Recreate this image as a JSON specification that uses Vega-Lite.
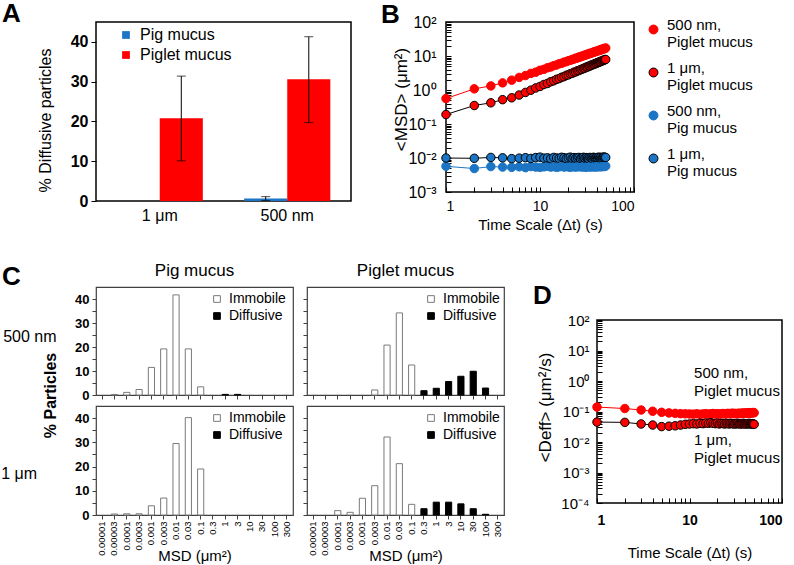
{
"$schema": "https://vega.github.io/schema/vega-lite/v6.json",
"autosize": {"type": "none"},
"padding": {"left": 96, "top": 22, "right": 698, "bottom": 543},
"background": "white",
"config": {
  "font": "Liberation Sans",
  "view": {"stroke": "black", "strokeWidth": 1.5},
  "axis": {"domain": false, "grid": false, "tickColor": "black", "labelColor": "black", "titleColor": "black", "titleFontWeight": "normal", "labelOverlap": false},
  "legend": {"labelColor": "black"},
  "title": {"color": "black"}
},
"datasets": {
  "barsA": [
    {"size": "1 μm", "mucus": "Pig mucus", "value": 0},
    {"size": "1 μm", "mucus": "Piglet mucus", "value": 20.8, "lo": 10.1, "hi": 31.4},
    {"size": "500 nm", "mucus": "Pig mucus", "value": 0.6, "lo": 0.1, "hi": 1.1},
    {"size": "500 nm", "mucus": "Piglet mucus", "value": 30.6, "lo": 19.7, "hi": 41.3}
  ],
  "msd": [
    {"t": 1, "500 nm, Piglet mucus": 0.56, "1 μm, Piglet mucus": 0.19, "500 nm, Pig mucus": 0.0057, "1 μm, Pig mucus": 0.0100},
    {"t": 2, "500 nm, Piglet mucus": 1.08, "1 μm, Piglet mucus": 0.35, "500 nm, Pig mucus": 0.0049, "1 μm, Pig mucus": 0.0098},
    {"t": 3, "500 nm, Piglet mucus": 1.32, "1 μm, Piglet mucus": 0.42, "500 nm, Pig mucus": 0.0056, "1 μm, Pig mucus": 0.0104},
    {"t": 4, "500 nm, Piglet mucus": 1.62, "1 μm, Piglet mucus": 0.52, "500 nm, Pig mucus": 0.0054, "1 μm, Pig mucus": 0.0101},
    {"t": 5, "500 nm, Piglet mucus": 1.95, "1 μm, Piglet mucus": 0.59, "500 nm, Pig mucus": 0.0053, "1 μm, Pig mucus": 0.0096},
    {"t": 6, "500 nm, Piglet mucus": 2.35, "1 μm, Piglet mucus": 0.71, "500 nm, Pig mucus": 0.0055, "1 μm, Pig mucus": 0.0099},
    {"t": 7, "500 nm, Piglet mucus": 2.66, "1 μm, Piglet mucus": 0.85, "500 nm, Pig mucus": 0.0052, "1 μm, Pig mucus": 0.0102},
    {"t": 8, "500 nm, Piglet mucus": 3.08, "1 μm, Piglet mucus": 0.99, "500 nm, Pig mucus": 0.0056, "1 μm, Pig mucus": 0.0097},
    {"t": 9, "500 nm, Piglet mucus": 3.35, "1 μm, Piglet mucus": 1.15, "500 nm, Pig mucus": 0.0054, "1 μm, Pig mucus": 0.0103},
    {"t": 10, "500 nm, Piglet mucus": 3.80, "1 μm, Piglet mucus": 1.27, "500 nm, Pig mucus": 0.0053, "1 μm, Pig mucus": 0.0106},
    {"t": 11, "500 nm, Piglet mucus": 4.05, "1 μm, Piglet mucus": 1.45, "500 nm, Pig mucus": 0.0055, "1 μm, Pig mucus": 0.0099},
    {"t": 12, "500 nm, Piglet mucus": 4.50, "1 μm, Piglet mucus": 1.56, "500 nm, Pig mucus": 0.0057, "1 μm, Pig mucus": 0.0101},
    {"t": 13, "500 nm, Piglet mucus": 4.75, "1 μm, Piglet mucus": 1.75, "500 nm, Pig mucus": 0.0054, "1 μm, Pig mucus": 0.0096},
    {"t": 14, "500 nm, Piglet mucus": 5.20, "1 μm, Piglet mucus": 1.86, "500 nm, Pig mucus": 0.0056, "1 μm, Pig mucus": 0.0104},
    {"t": 15, "500 nm, Piglet mucus": 5.45, "1 μm, Piglet mucus": 2.06, "500 nm, Pig mucus": 0.0053, "1 μm, Pig mucus": 0.0100},
    {"t": 16, "500 nm, Piglet mucus": 5.90, "1 μm, Piglet mucus": 2.17, "500 nm, Pig mucus": 0.0055, "1 μm, Pig mucus": 0.0098},
    {"t": 17, "500 nm, Piglet mucus": 6.10, "1 μm, Piglet mucus": 2.37, "500 nm, Pig mucus": 0.0058, "1 μm, Pig mucus": 0.0105},
    {"t": 18, "500 nm, Piglet mucus": 6.60, "1 μm, Piglet mucus": 2.47, "500 nm, Pig mucus": 0.0054, "1 μm, Pig mucus": 0.0102},
    {"t": 19, "500 nm, Piglet mucus": 6.80, "1 μm, Piglet mucus": 2.70, "500 nm, Pig mucus": 0.0056, "1 μm, Pig mucus": 0.0097},
    {"t": 20, "500 nm, Piglet mucus": 7.25, "1 μm, Piglet mucus": 2.79, "500 nm, Pig mucus": 0.0055, "1 μm, Pig mucus": 0.0101},
    {"t": 21, "500 nm, Piglet mucus": 7.45, "1 μm, Piglet mucus": 3.01, "500 nm, Pig mucus": 0.0053, "1 μm, Pig mucus": 0.0106},
    {"t": 22, "500 nm, Piglet mucus": 7.95, "1 μm, Piglet mucus": 3.09, "500 nm, Pig mucus": 0.0057, "1 μm, Pig mucus": 0.0099},
    {"t": 23, "500 nm, Piglet mucus": 8.10, "1 μm, Piglet mucus": 3.35, "500 nm, Pig mucus": 0.0055, "1 μm, Pig mucus": 0.0103},
    {"t": 24, "500 nm, Piglet mucus": 8.65, "1 μm, Piglet mucus": 3.41, "500 nm, Pig mucus": 0.0054, "1 μm, Pig mucus": 0.0098},
    {"t": 25, "500 nm, Piglet mucus": 8.75, "1 μm, Piglet mucus": 3.68, "500 nm, Pig mucus": 0.0056, "1 μm, Pig mucus": 0.0102},
    {"t": 26, "500 nm, Piglet mucus": 9.35, "1 μm, Piglet mucus": 3.72, "500 nm, Pig mucus": 0.0055, "1 μm, Pig mucus": 0.0104},
    {"t": 27, "500 nm, Piglet mucus": 9.40, "1 μm, Piglet mucus": 4.00, "500 nm, Pig mucus": 0.0057, "1 μm, Pig mucus": 0.0097},
    {"t": 28, "500 nm, Piglet mucus": 10.0, "1 μm, Piglet mucus": 4.05, "500 nm, Pig mucus": 0.0054, "1 μm, Pig mucus": 0.0101},
    {"t": 29, "500 nm, Piglet mucus": 10.1, "1 μm, Piglet mucus": 4.35, "500 nm, Pig mucus": 0.0056, "1 μm, Pig mucus": 0.0105},
    {"t": 30, "500 nm, Piglet mucus": 10.7, "1 μm, Piglet mucus": 4.38, "500 nm, Pig mucus": 0.0055, "1 μm, Pig mucus": 0.0099},
    {"t": 31, "500 nm, Piglet mucus": 10.7, "1 μm, Piglet mucus": 4.70, "500 nm, Pig mucus": 0.0053, "1 μm, Pig mucus": 0.0103},
    {"t": 32, "500 nm, Piglet mucus": 11.4, "1 μm, Piglet mucus": 4.72, "500 nm, Pig mucus": 0.0057, "1 μm, Pig mucus": 0.0100},
    {"t": 33, "500 nm, Piglet mucus": 11.4, "1 μm, Piglet mucus": 5.05, "500 nm, Pig mucus": 0.0055, "1 μm, Pig mucus": 0.0096},
    {"t": 34, "500 nm, Piglet mucus": 12.0, "1 μm, Piglet mucus": 5.05, "500 nm, Pig mucus": 0.0056, "1 μm, Pig mucus": 0.0104},
    {"t": 35, "500 nm, Piglet mucus": 12.0, "1 μm, Piglet mucus": 5.40, "500 nm, Pig mucus": 0.0054, "1 μm, Pig mucus": 0.0101},
    {"t": 36, "500 nm, Piglet mucus": 12.7, "1 μm, Piglet mucus": 5.40, "500 nm, Pig mucus": 0.0057, "1 μm, Pig mucus": 0.0098},
    {"t": 37, "500 nm, Piglet mucus": 12.7, "1 μm, Piglet mucus": 5.75, "500 nm, Pig mucus": 0.0055, "1 μm, Pig mucus": 0.0105},
    {"t": 38, "500 nm, Piglet mucus": 13.4, "1 μm, Piglet mucus": 5.74, "500 nm, Pig mucus": 0.0056, "1 μm, Pig mucus": 0.0102},
    {"t": 39, "500 nm, Piglet mucus": 13.3, "1 μm, Piglet mucus": 6.10, "500 nm, Pig mucus": 0.0054, "1 μm, Pig mucus": 0.0099},
    {"t": 40, "500 nm, Piglet mucus": 14.0, "1 μm, Piglet mucus": 6.08, "500 nm, Pig mucus": 0.0057, "1 μm, Pig mucus": 0.0103},
    {"t": 41, "500 nm, Piglet mucus": 14.0, "1 μm, Piglet mucus": 6.45, "500 nm, Pig mucus": 0.0055, "1 μm, Pig mucus": 0.0100},
    {"t": 42, "500 nm, Piglet mucus": 14.7, "1 μm, Piglet mucus": 6.42, "500 nm, Pig mucus": 0.0058, "1 μm, Pig mucus": 0.0106},
    {"t": 43, "500 nm, Piglet mucus": 14.6, "1 μm, Piglet mucus": 6.80, "500 nm, Pig mucus": 0.0056, "1 μm, Pig mucus": 0.0101},
    {"t": 44, "500 nm, Piglet mucus": 15.3, "1 μm, Piglet mucus": 6.76, "500 nm, Pig mucus": 0.0055, "1 μm, Pig mucus": 0.0104},
    {"t": 45, "500 nm, Piglet mucus": 15.2, "1 μm, Piglet mucus": 7.15, "500 nm, Pig mucus": 0.0057, "1 μm, Pig mucus": 0.0099},
    {"t": 46, "500 nm, Piglet mucus": 16.0, "1 μm, Piglet mucus": 7.12, "500 nm, Pig mucus": 0.0056, "1 μm, Pig mucus": 0.0105},
    {"t": 47, "500 nm, Piglet mucus": 15.9, "1 μm, Piglet mucus": 7.50, "500 nm, Pig mucus": 0.0058, "1 μm, Pig mucus": 0.0102},
    {"t": 48, "500 nm, Piglet mucus": 16.7, "1 μm, Piglet mucus": 7.48, "500 nm, Pig mucus": 0.0056, "1 μm, Pig mucus": 0.0107},
    {"t": 49, "500 nm, Piglet mucus": 16.5, "1 μm, Piglet mucus": 7.85, "500 nm, Pig mucus": 0.0057, "1 μm, Pig mucus": 0.0103},
    {"t": 50, "500 nm, Piglet mucus": 17.2, "1 μm, Piglet mucus": 7.90, "500 nm, Pig mucus": 0.0058, "1 μm, Pig mucus": 0.0104}
  ],
  "deff": [
    {"t": 1, "500 nm, Piglet mucus": 0.140, "1 μm, Piglet mucus": 0.045},
    {"t": 2, "500 nm, Piglet mucus": 0.125, "1 μm, Piglet mucus": 0.044},
    {"t": 3, "500 nm, Piglet mucus": 0.112, "1 μm, Piglet mucus": 0.039},
    {"t": 4, "500 nm, Piglet mucus": 0.102, "1 μm, Piglet mucus": 0.036},
    {"t": 5, "500 nm, Piglet mucus": 0.094, "1 μm, Piglet mucus": 0.032},
    {"t": 6, "500 nm, Piglet mucus": 0.090, "1 μm, Piglet mucus": 0.033},
    {"t": 7, "500 nm, Piglet mucus": 0.087, "1 μm, Piglet mucus": 0.034},
    {"t": 8, "500 nm, Piglet mucus": 0.085, "1 μm, Piglet mucus": 0.036},
    {"t": 9, "500 nm, Piglet mucus": 0.084, "1 μm, Piglet mucus": 0.038},
    {"t": 10, "500 nm, Piglet mucus": 0.083, "1 μm, Piglet mucus": 0.039},
    {"t": 11, "500 nm, Piglet mucus": 0.082, "1 μm, Piglet mucus": 0.040},
    {"t": 12, "500 nm, Piglet mucus": 0.084, "1 μm, Piglet mucus": 0.039},
    {"t": 13, "500 nm, Piglet mucus": 0.081, "1 μm, Piglet mucus": 0.041},
    {"t": 14, "500 nm, Piglet mucus": 0.083, "1 μm, Piglet mucus": 0.040},
    {"t": 15, "500 nm, Piglet mucus": 0.085, "1 μm, Piglet mucus": 0.042},
    {"t": 16, "500 nm, Piglet mucus": 0.082, "1 μm, Piglet mucus": 0.041},
    {"t": 17, "500 nm, Piglet mucus": 0.084, "1 μm, Piglet mucus": 0.043},
    {"t": 18, "500 nm, Piglet mucus": 0.086, "1 μm, Piglet mucus": 0.041},
    {"t": 19, "500 nm, Piglet mucus": 0.083, "1 μm, Piglet mucus": 0.040},
    {"t": 20, "500 nm, Piglet mucus": 0.085, "1 μm, Piglet mucus": 0.042},
    {"t": 21, "500 nm, Piglet mucus": 0.082, "1 μm, Piglet mucus": 0.039},
    {"t": 22, "500 nm, Piglet mucus": 0.084, "1 μm, Piglet mucus": 0.041},
    {"t": 23, "500 nm, Piglet mucus": 0.086, "1 μm, Piglet mucus": 0.040},
    {"t": 24, "500 nm, Piglet mucus": 0.083, "1 μm, Piglet mucus": 0.039},
    {"t": 25, "500 nm, Piglet mucus": 0.085, "1 μm, Piglet mucus": 0.041},
    {"t": 26, "500 nm, Piglet mucus": 0.087, "1 μm, Piglet mucus": 0.040},
    {"t": 27, "500 nm, Piglet mucus": 0.084, "1 μm, Piglet mucus": 0.039},
    {"t": 28, "500 nm, Piglet mucus": 0.086, "1 μm, Piglet mucus": 0.041},
    {"t": 29, "500 nm, Piglet mucus": 0.088, "1 μm, Piglet mucus": 0.040},
    {"t": 30, "500 nm, Piglet mucus": 0.085, "1 μm, Piglet mucus": 0.039},
    {"t": 31, "500 nm, Piglet mucus": 0.087, "1 μm, Piglet mucus": 0.040},
    {"t": 32, "500 nm, Piglet mucus": 0.084, "1 μm, Piglet mucus": 0.039},
    {"t": 33, "500 nm, Piglet mucus": 0.086, "1 μm, Piglet mucus": 0.041},
    {"t": 34, "500 nm, Piglet mucus": 0.088, "1 μm, Piglet mucus": 0.040},
    {"t": 35, "500 nm, Piglet mucus": 0.085, "1 μm, Piglet mucus": 0.039},
    {"t": 36, "500 nm, Piglet mucus": 0.087, "1 μm, Piglet mucus": 0.040},
    {"t": 37, "500 nm, Piglet mucus": 0.089, "1 μm, Piglet mucus": 0.039},
    {"t": 38, "500 nm, Piglet mucus": 0.086, "1 μm, Piglet mucus": 0.041},
    {"t": 39, "500 nm, Piglet mucus": 0.088, "1 μm, Piglet mucus": 0.040},
    {"t": 40, "500 nm, Piglet mucus": 0.090, "1 μm, Piglet mucus": 0.039},
    {"t": 41, "500 nm, Piglet mucus": 0.087, "1 μm, Piglet mucus": 0.040},
    {"t": 42, "500 nm, Piglet mucus": 0.089, "1 μm, Piglet mucus": 0.039},
    {"t": 43, "500 nm, Piglet mucus": 0.091, "1 μm, Piglet mucus": 0.040},
    {"t": 44, "500 nm, Piglet mucus": 0.088, "1 μm, Piglet mucus": 0.041},
    {"t": 45, "500 nm, Piglet mucus": 0.090, "1 μm, Piglet mucus": 0.039},
    {"t": 46, "500 nm, Piglet mucus": 0.092, "1 μm, Piglet mucus": 0.040},
    {"t": 47, "500 nm, Piglet mucus": 0.089, "1 μm, Piglet mucus": 0.039},
    {"t": 48, "500 nm, Piglet mucus": 0.091, "1 μm, Piglet mucus": 0.040},
    {"t": 49, "500 nm, Piglet mucus": 0.093, "1 μm, Piglet mucus": 0.039},
    {"t": 50, "500 nm, Piglet mucus": 0.091, "1 μm, Piglet mucus": 0.038}
  ],
  "hist": [
    {"size": "500 nm", "mucus": "Pig mucus", "msd": "0.00003", "type": "Immobile", "pct": 0.2},
    {"size": "500 nm", "mucus": "Pig mucus", "msd": "0.0001", "type": "Immobile", "pct": 1.1},
    {"size": "500 nm", "mucus": "Pig mucus", "msd": "0.0003", "type": "Immobile", "pct": 2.3},
    {"size": "500 nm", "mucus": "Pig mucus", "msd": "0.001", "type": "Immobile", "pct": 11.5},
    {"size": "500 nm", "mucus": "Pig mucus", "msd": "0.003", "type": "Immobile", "pct": 19.2},
    {"size": "500 nm", "mucus": "Pig mucus", "msd": "0.01", "type": "Immobile", "pct": 41.7},
    {"size": "500 nm", "mucus": "Pig mucus", "msd": "0.03", "type": "Immobile", "pct": 19.2},
    {"size": "500 nm", "mucus": "Pig mucus", "msd": "0.1", "type": "Immobile", "pct": 3.4},
    {"size": "500 nm", "mucus": "Pig mucus", "msd": "1", "type": "Diffusive", "pct": 0.25},
    {"size": "500 nm", "mucus": "Pig mucus", "msd": "3", "type": "Diffusive", "pct": 0.25},
    {"size": "1 μm", "mucus": "Pig mucus", "msd": "0.00003", "type": "Immobile", "pct": 0.4},
    {"size": "1 μm", "mucus": "Pig mucus", "msd": "0.0001", "type": "Immobile", "pct": 0.5},
    {"size": "1 μm", "mucus": "Pig mucus", "msd": "0.0003", "type": "Immobile", "pct": 0.5},
    {"size": "1 μm", "mucus": "Pig mucus", "msd": "0.001", "type": "Immobile", "pct": 3.8},
    {"size": "1 μm", "mucus": "Pig mucus", "msd": "0.003", "type": "Immobile", "pct": 7.0},
    {"size": "1 μm", "mucus": "Pig mucus", "msd": "0.01", "type": "Immobile", "pct": 29.5},
    {"size": "1 μm", "mucus": "Pig mucus", "msd": "0.03", "type": "Immobile", "pct": 40.2},
    {"size": "1 μm", "mucus": "Pig mucus", "msd": "0.1", "type": "Immobile", "pct": 19.0},
    {"size": "500 nm", "mucus": "Piglet mucus", "msd": "0.003", "type": "Immobile", "pct": 2.1},
    {"size": "500 nm", "mucus": "Piglet mucus", "msd": "0.01", "type": "Immobile", "pct": 20.8},
    {"size": "500 nm", "mucus": "Piglet mucus", "msd": "0.03", "type": "Immobile", "pct": 34.2},
    {"size": "500 nm", "mucus": "Piglet mucus", "msd": "0.1", "type": "Immobile", "pct": 12.5},
    {"size": "500 nm", "mucus": "Piglet mucus", "msd": "0.3", "type": "Diffusive", "pct": 1.8},
    {"size": "500 nm", "mucus": "Piglet mucus", "msd": "1", "type": "Diffusive", "pct": 2.8},
    {"size": "500 nm", "mucus": "Piglet mucus", "msd": "3", "type": "Diffusive", "pct": 5.6},
    {"size": "500 nm", "mucus": "Piglet mucus", "msd": "10", "type": "Diffusive", "pct": 7.8},
    {"size": "500 nm", "mucus": "Piglet mucus", "msd": "30", "type": "Diffusive", "pct": 9.9},
    {"size": "500 nm", "mucus": "Piglet mucus", "msd": "100", "type": "Diffusive", "pct": 2.9},
    {"size": "1 μm", "mucus": "Piglet mucus", "msd": "0.0001", "type": "Immobile", "pct": 1.8},
    {"size": "1 μm", "mucus": "Piglet mucus", "msd": "0.0003", "type": "Immobile", "pct": 1.1},
    {"size": "1 μm", "mucus": "Piglet mucus", "msd": "0.001", "type": "Immobile", "pct": 6.9},
    {"size": "1 μm", "mucus": "Piglet mucus", "msd": "0.003", "type": "Immobile", "pct": 12.1},
    {"size": "1 μm", "mucus": "Piglet mucus", "msd": "0.01", "type": "Immobile", "pct": 32.2},
    {"size": "1 μm", "mucus": "Piglet mucus", "msd": "0.03", "type": "Immobile", "pct": 21.2},
    {"size": "1 μm", "mucus": "Piglet mucus", "msd": "0.1", "type": "Immobile", "pct": 4.4},
    {"size": "1 μm", "mucus": "Piglet mucus", "msd": "0.3", "type": "Diffusive", "pct": 2.6},
    {"size": "1 μm", "mucus": "Piglet mucus", "msd": "1", "type": "Diffusive", "pct": 5.3},
    {"size": "1 μm", "mucus": "Piglet mucus", "msd": "3", "type": "Diffusive", "pct": 5.3},
    {"size": "1 μm", "mucus": "Piglet mucus", "msd": "10", "type": "Diffusive", "pct": 4.6},
    {"size": "1 μm", "mucus": "Piglet mucus", "msd": "30", "type": "Diffusive", "pct": 2.6},
    {"size": "1 μm", "mucus": "Piglet mucus", "msd": "100", "type": "Diffusive", "pct": 0.3}
  ]
},
"spacing": 28,
"resolve": {"scale": {"fill": "independent", "stroke": "independent"}, "legend": {"fill": "independent", "stroke": "independent"}},
"vconcat": [
 {
  "hconcat": [
   {
    "width": 255, "height": 179,
    "title": {"text": "A", "anchor": "start", "frame": "group", "fontSize": 26, "fontWeight": "bold", "dx": -94, "offset": -5},
    "data": {"name": "barsA"},
    "encoding": {
      "x": {"field": "size", "type": "nominal", "sort": ["1 μm", "500 nm"], "scale": {"paddingInner": 0, "paddingOuter": 0}, "axis": {"title": null, "labelAngle": 0, "labelFontSize": 16, "ticks": false, "labelPadding": 6}},
      "xOffset": {"field": "mucus", "type": "nominal", "sort": ["Pig mucus", "Piglet mucus"], "scale": {"paddingInner": 0, "paddingOuter": 0.48}}
    },
    "layer": [
      {"mark": {"type": "bar"}, "encoding": {
        "y": {"field": "value", "type": "quantitative", "title": "% Diffusive particles", "scale": {"domain": [0, 45]}, "axis": {"values": [0, 10, 20, 30, 40], "labelFontSize": 16, "labelFontWeight": "bold", "tickSize": 5, "labelPadding": 3, "title": "% Diffusive particles", "titleFontSize": 16, "titleX": -43, "titleY": 98}},
        "fill": {"field": "mucus", "type": "nominal", "scale": {"domain": ["Pig mucus", "Piglet mucus"], "range": ["#1b75c4", "#ff0000"]}, "legend": {"title": null, "orient": "none", "legendX": 22, "legendY": 5, "symbolType": "square", "symbolSize": 60, "symbolStrokeWidth": 0, "labelFontSize": 16, "rowPadding": 4, "labelOffset": 6}}
      }},
      {"mark": {"type": "rule", "color": "black", "strokeWidth": 1}, "encoding": {"y": {"field": "lo", "type": "quantitative", "title": "% Diffusive particles", "scale": {"domain": [0, 45]}}, "y2": {"field": "hi"}}},
      {"mark": {"type": "tick", "color": "black", "thickness": 1, "size": 9}, "encoding": {"y": {"field": "hi", "type": "quantitative", "title": "% Diffusive particles", "scale": {"domain": [0, 45]}}}},
      {"mark": {"type": "tick", "color": "black", "thickness": 1, "size": 9}, "encoding": {"y": {"field": "lo", "type": "quantitative", "title": "% Diffusive particles", "scale": {"domain": [0, 45]}}}}
    ]
   },
   {
    "width": 188, "height": 170,
    "title": {"text": "B", "anchor": "start", "frame": "group", "fontSize": 26, "fontWeight": "bold", "dx": -65, "offset": -14},
    "data": {"name": "msd"},
    "transform": [{"fold": ["500 nm, Piglet mucus", "1 μm, Piglet mucus", "500 nm, Pig mucus", "1 μm, Pig mucus"], "as": ["series", "msd"]}],
    "encoding": {
      "x": {"field": "t", "type": "quantitative", "scale": {"type": "log", "domain": [1, 100]}, "axis": {"values": [1, 2, 3, 4, 5, 6, 7, 8, 9, 10, 20, 30, 40, 50, 60, 70, 80, 90, 100], "labelExpr": "datum.value == 1 ? '1' : datum.value == 10 ? '10' : datum.value == 100 ? '100' : ''", "tickSize": -5, "labelPadding": 12, "labelFontSize": 14, "title": "Time Scale (Δt) (s)", "titleFontSize": 15, "titleY": 25}},
      "y": {"field": "msd", "type": "quantitative", "scale": {"type": "log", "domain": [0.001, 100]}, "axis": {"values": [0.001, 0.002, 0.003, 0.004, 0.005, 0.006, 0.007, 0.008, 0.009, 0.01, 0.02, 0.03, 0.04, 0.05, 0.06, 0.07, 0.08, 0.09, 0.1, 0.2, 0.3, 0.4, 0.5, 0.6, 0.7, 0.8, 0.9, 1, 2, 3, 4, 5, 6, 7, 8, 9, 10, 20, 30, 40, 50, 60, 70, 80, 90, 100], "labelExpr": "abs(log(datum.value)/LN10 - round(log(datum.value)/LN10)) < 0.001 ? '10' + ['⁻⁴','⁻³','⁻²','⁻¹','⁰','¹','²'][round(log(datum.value)/LN10) + 4] : ''", "tickSize": -5, "labelPadding": 15, "labelFontSize": 16, "title": "<MSD>  (μm²)", "titleFontSize": 17, "titleX": -36, "titleY": 77}}
    },
    "layer": [
      {"mark": {"type": "line", "strokeWidth": 1}, "encoding": {"stroke": {"field": "series", "type": "nominal", "scale": {"domain": ["500 nm, Piglet mucus", "1 μm, Piglet mucus", "500 nm, Pig mucus", "1 μm, Pig mucus"], "range": ["#ff0000", "black", "#1b75c4", "black"]}, "legend": {"title": null, "orient": "right", "offset": 12, "symbolType": "circle", "symbolSize": 80, "symbolStrokeWidth": 1, "labelFontSize": 15, "labelExpr": "[split(datum.label, ', ')[0] + ',', split(datum.label, ', ')[1]]", "labelBaseline": "alphabetic", "rowPadding": 10, "labelOffset": 6}}}},
      {"mark": {"type": "point", "filled": true, "size": 72, "strokeWidth": 1, "opacity": 1}, "encoding": {
        "fill": {"field": "series", "type": "nominal", "scale": {"domain": ["500 nm, Piglet mucus", "1 μm, Piglet mucus", "500 nm, Pig mucus", "1 μm, Pig mucus"], "range": ["#ff0000", "#ff0000", "#1b75c4", "#1b75c4"]}, "legend": {"title": null, "orient": "right", "offset": 12, "symbolType": "circle", "symbolSize": 80, "symbolStrokeWidth": 1, "labelFontSize": 15, "labelExpr": "[split(datum.label, ', ')[0] + ',', split(datum.label, ', ')[1]]", "labelBaseline": "alphabetic", "rowPadding": 10, "labelOffset": 6}},
        "stroke": {"field": "series", "type": "nominal", "scale": {"domain": ["500 nm, Piglet mucus", "1 μm, Piglet mucus", "500 nm, Pig mucus", "1 μm, Pig mucus"], "range": ["#ff0000", "black", "#1b75c4", "black"]}, "legend": {"title": null, "orient": "right", "offset": 12, "symbolType": "circle", "symbolSize": 80, "symbolStrokeWidth": 1, "labelFontSize": 15, "labelExpr": "[split(datum.label, ', ')[0] + ',', split(datum.label, ', ')[1]]", "labelBaseline": "alphabetic", "rowPadding": 10, "labelOffset": 6}}
      }}
    ]
   }
  ],
  "spacing": 28,
  "resolve": {"scale": {"fill": "independent", "stroke": "independent"}, "legend": {"fill": "independent", "stroke": "independent"}}
 },
 {
  "hconcat": [
   {
    "title": {"text": "C", "anchor": "start", "frame": "group", "fontSize": 26, "fontWeight": "bold", "dx": -94, "offset": -29},
    "columns": 2,
    "spacing": {"row": 11, "column": 14},
    "bounds": "flush",
    "resolve": {"scale": {"fill": "independent", "stroke": "independent"}, "legend": {"fill": "independent", "stroke": "independent"}},
    "concat": [
       {
        "width": 197, "height": 108,
        "title": {"text": "Pig mucus", "anchor": "middle", "frame": "group", "fontSize": 17, "fontWeight": "normal", "offset": 7},
        "view": {"stroke": "#404040", "strokeWidth": 1.2},
        "data": {"name": "hist"},
        "transform": [{"filter": "datum.size === '500 nm' && datum.mucus === 'Pig mucus'"}],
        "mark": {"type": "bar", "strokeWidth": 1},
        "encoding": {
          "x": {"field": "msd", "type": "ordinal", "scale": {"domain": ["0.00001", "0.00003", "0.0001", "0.0003", "0.001", "0.003", "0.01", "0.03", "0.1", "0.3", "1", "3", "10", "30", "100", "300"], "paddingInner": 0.5, "paddingOuter": 0.25}, "axis": {"labels": false, "title": null, "tickSize": 4, "tickColor": "#404040"}},
          "y": {"field": "pct", "type": "quantitative", "scale": {"domain": [0, 45]}, "axis": {"values": [0, 5, 10, 15, 20, 25, 30, 35, 40], "labelExpr": "datum.value % 10 === 0 ? datum.label : ''", "labelFontSize": 13, "labelFontWeight": "bold", "tickSize": 4, "labelPadding": 3, "tickColor": "#404040", "title": "500 nm", "titleAngle": 0, "titleAlign": "right", "titleBaseline": "middle", "titleFontSize": 16, "titleX": -40, "titleY": 49}},
          "fill": {"field": "type", "type": "nominal", "scale": {"domain": ["Immobile", "Diffusive"], "range": ["white", "black"]}, "legend": {"title": null, "orient": "none", "legendX": 114, "legendY": 5, "symbolType": "square", "symbolSize": 45, "symbolStrokeWidth": 1, "labelFontSize": 14, "rowPadding": 3, "labelOffset": 5}},
          "stroke": {"field": "type", "type": "nominal", "scale": {"domain": ["Immobile", "Diffusive"], "range": ["#7a7a7a", "black"]}, "legend": {"title": null, "orient": "none", "legendX": 114, "legendY": 5, "symbolType": "square", "symbolSize": 45, "symbolStrokeWidth": 1, "labelFontSize": 14, "rowPadding": 3, "labelOffset": 5}}
        }
       },
       {
        "width": 197, "height": 108,
        "title": {"text": "Piglet mucus", "anchor": "middle", "frame": "group", "fontSize": 17, "fontWeight": "normal", "offset": 7},
        "view": {"stroke": "#404040", "strokeWidth": 1.2},
        "data": {"name": "hist"},
        "transform": [{"filter": "datum.size === '500 nm' && datum.mucus === 'Piglet mucus'"}],
        "mark": {"type": "bar", "strokeWidth": 1},
        "encoding": {
          "x": {"field": "msd", "type": "ordinal", "scale": {"domain": ["0.00001", "0.00003", "0.0001", "0.0003", "0.001", "0.003", "0.01", "0.03", "0.1", "0.3", "1", "3", "10", "30", "100", "300"], "paddingInner": 0.5, "paddingOuter": 0.25}, "axis": {"labels": false, "title": null, "tickSize": 4, "tickColor": "#404040"}},
          "y": {"field": "pct", "type": "quantitative", "scale": {"domain": [0, 45]}, "axis": {"values": [0, 5, 10, 15, 20, 25, 30, 35, 40], "labels": false, "tickSize": 4, "title": null, "tickColor": "#404040"}},
          "fill": {"field": "type", "type": "nominal", "scale": {"domain": ["Immobile", "Diffusive"], "range": ["white", "black"]}, "legend": {"title": null, "orient": "none", "legendX": 117, "legendY": 5, "symbolType": "square", "symbolSize": 45, "symbolStrokeWidth": 1, "labelFontSize": 14, "rowPadding": 3, "labelOffset": 5}},
          "stroke": {"field": "type", "type": "nominal", "scale": {"domain": ["Immobile", "Diffusive"], "range": ["#7a7a7a", "black"]}, "legend": {"title": null, "orient": "none", "legendX": 117, "legendY": 5, "symbolType": "square", "symbolSize": 45, "symbolStrokeWidth": 1, "labelFontSize": 14, "rowPadding": 3, "labelOffset": 5}}
        }
       },
       {
        "width": 197, "height": 109,
        "title": {"text": "1 μm", "orient": "left", "angle": 0, "anchor": "middle", "align": "right", "baseline": "middle", "fontSize": 16, "fontWeight": "normal", "offset": -31, "dy": 13},
        "view": {"stroke": "#404040", "strokeWidth": 1.2},
        "data": {"name": "hist"},
        "transform": [{"filter": "datum.size === '1 μm' && datum.mucus === 'Pig mucus'"}],
        "mark": {"type": "bar", "strokeWidth": 1},
        "encoding": {
          "x": {"field": "msd", "type": "ordinal", "scale": {"domain": ["0.00001", "0.00003", "0.0001", "0.0003", "0.001", "0.003", "0.01", "0.03", "0.1", "0.3", "1", "3", "10", "30", "100", "300"], "paddingInner": 0.5, "paddingOuter": 0.25}, "axis": {"labelAngle": -90, "labelFontSize": 9.5, "labelPadding": 2, "tickSize": 4, "tickColor": "#404040", "title": "MSD (μm²)", "titleFontSize": 15, "titleY": 33}},
          "y": {"field": "pct", "type": "quantitative", "scale": {"domain": [0, 45]}, "axis": {"values": [0, 5, 10, 15, 20, 25, 30, 35, 40], "labelExpr": "datum.value % 10 === 0 ? datum.label : ''", "labelFontSize": 13, "labelFontWeight": "bold", "tickSize": 4, "labelPadding": 3, "tickColor": "#404040", "title": "% Particles", "titleFontSize": 16, "titleFontWeight": "bold", "titleX": -38, "titleY": -11}},
          "fill": {"field": "type", "type": "nominal", "scale": {"domain": ["Immobile", "Diffusive"], "range": ["white", "black"]}, "legend": {"title": null, "orient": "none", "legendX": 114, "legendY": 5, "symbolType": "square", "symbolSize": 45, "symbolStrokeWidth": 1, "labelFontSize": 14, "rowPadding": 3, "labelOffset": 5}},
          "stroke": {"field": "type", "type": "nominal", "scale": {"domain": ["Immobile", "Diffusive"], "range": ["#7a7a7a", "black"]}, "legend": {"title": null, "orient": "none", "legendX": 114, "legendY": 5, "symbolType": "square", "symbolSize": 45, "symbolStrokeWidth": 1, "labelFontSize": 14, "rowPadding": 3, "labelOffset": 5}}
        }
       },
       {
        "width": 197, "height": 109,
        "view": {"stroke": "#404040", "strokeWidth": 1.2},
        "data": {"name": "hist"},
        "transform": [{"filter": "datum.size === '1 μm' && datum.mucus === 'Piglet mucus'"}],
        "mark": {"type": "bar", "strokeWidth": 1},
        "encoding": {
          "x": {"field": "msd", "type": "ordinal", "scale": {"domain": ["0.00001", "0.00003", "0.0001", "0.0003", "0.001", "0.003", "0.01", "0.03", "0.1", "0.3", "1", "3", "10", "30", "100", "300"], "paddingInner": 0.5, "paddingOuter": 0.25}, "axis": {"labelAngle": -90, "labelFontSize": 9.5, "labelPadding": 2, "tickSize": 4, "tickColor": "#404040", "title": "MSD (μm²)", "titleFontSize": 15, "titleY": 33}},
          "y": {"field": "pct", "type": "quantitative", "scale": {"domain": [0, 45]}, "axis": {"values": [0, 5, 10, 15, 20, 25, 30, 35, 40], "labels": false, "tickSize": 4, "title": null, "tickColor": "#404040"}},
          "fill": {"field": "type", "type": "nominal", "scale": {"domain": ["Immobile", "Diffusive"], "range": ["white", "black"]}, "legend": {"title": null, "orient": "none", "legendX": 117, "legendY": 5, "symbolType": "square", "symbolSize": 45, "symbolStrokeWidth": 1, "labelFontSize": 14, "rowPadding": 3, "labelOffset": 5}},
          "stroke": {"field": "type", "type": "nominal", "scale": {"domain": ["Immobile", "Diffusive"], "range": ["#7a7a7a", "black"]}, "legend": {"title": null, "orient": "none", "legendX": 117, "legendY": 5, "symbolType": "square", "symbolSize": 45, "symbolStrokeWidth": 1, "labelFontSize": 14, "rowPadding": 3, "labelOffset": 5}}
        }
       }
    ]
   },
   {
    "vconcat": [
     {
      "width": 185, "height": 1,
      "data": {"values": [{"n": 0}]},
      "mark": {"type": "point", "opacity": 0},
      "encoding": {},
      "view": {"stroke": null}
     },
     {
      "width": 185, "height": 183,
      "title": {"text": "D", "anchor": "start", "frame": "group", "fontSize": 26, "fontWeight": "bold", "dx": -64, "offset": 4},
      "encoding": {
        "x": {"field": "t", "type": "quantitative", "scale": {"type": "log", "domain": [1, 100]}, "axis": {"values": [1, 2, 3, 4, 5, 6, 7, 8, 9, 10, 20, 30, 40, 50, 60, 70, 80, 90, 100], "labelExpr": "datum.value == 1 ? '1' : datum.value == 10 ? '10' : datum.value == 100 ? '100' : ''", "tickSize": -5, "labelPadding": 15, "labelFontSize": 14, "labelFontWeight": "bold", "title": "Time Scale (Δt) (s)", "titleFontSize": 15, "titleY": 42}},
        "y": {"field": "d", "type": "quantitative", "scale": {"type": "log", "domain": [0.0001, 100]}, "axis": {"values": [0.0001, 0.0002, 0.0003, 0.0004, 0.0005, 0.0006, 0.0007, 0.0008, 0.0009, 0.001, 0.002, 0.003, 0.004, 0.005, 0.006, 0.007, 0.008, 0.009, 0.01, 0.02, 0.03, 0.04, 0.05, 0.06, 0.07, 0.08, 0.09, 0.1, 0.2, 0.3, 0.4, 0.5, 0.6, 0.7, 0.8, 0.9, 1, 2, 3, 4, 5, 6, 7, 8, 9, 10, 20, 30, 40, 50, 60, 70, 80, 90, 100], "labelExpr": "abs(log(datum.value)/LN10 - round(log(datum.value)/LN10)) < 0.001 ? '10' + ['⁻⁴','⁻³','⁻²','⁻¹','⁰','¹','²'][round(log(datum.value)/LN10) + 4] : ''", "tickSize": -5, "labelPadding": 13, "labelFontSize": 15, "title": "<Deff>  (μm²/s)", "titleFontSize": 17, "titleX": -43, "titleY": 87}}
      },
      "layer": [
        {"data": {"name": "deff"}, "transform": [{"fold": ["500 nm, Piglet mucus", "1 μm, Piglet mucus"], "as": ["series", "d"]}],
         "mark": {"type": "line", "strokeWidth": 1},
         "encoding": {"stroke": {"field": "series", "type": "nominal", "scale": {"domain": ["500 nm, Piglet mucus", "1 μm, Piglet mucus"], "range": ["#ff0000", "black"]}, "legend": null}}},
        {"data": {"name": "deff"}, "transform": [{"fold": ["500 nm, Piglet mucus", "1 μm, Piglet mucus"], "as": ["series", "d"]}],
         "mark": {"type": "point", "filled": true, "size": 72, "strokeWidth": 1, "opacity": 1},
         "encoding": {
           "fill": {"field": "series", "type": "nominal", "scale": {"domain": ["500 nm, Piglet mucus", "1 μm, Piglet mucus"], "range": ["#ff0000", "#ff0000"]}, "legend": null},
           "stroke": {"field": "series", "type": "nominal", "scale": {"domain": ["500 nm, Piglet mucus", "1 μm, Piglet mucus"], "range": ["#ff0000", "black"]}, "legend": null}
         }},
        {"data": {"values": [{"t": 11.2, "d": 3.0, "label": "500 nm,\nPiglet mucus"}, {"t": 11.2, "d": 0.019, "label": "1 μm,\nPiglet mucus"}]},
         "mark": {"type": "text", "align": "left", "baseline": "top", "lineBreak": "\n", "fontSize": 15, "lineHeight": 18, "color": "black"},
         "encoding": {"text": {"field": "label"}}}
      ]
     }
    ],
    "spacing": 32,
    "bounds": "flush",
    "resolve": {"scale": {"fill": "independent", "stroke": "independent"}, "legend": {"fill": "independent", "stroke": "independent"}}
   }
  ],
  "spacing": 27,
  "resolve": {"scale": {"fill": "independent", "stroke": "independent"}, "legend": {"fill": "independent", "stroke": "independent"}}
 }
]
}
